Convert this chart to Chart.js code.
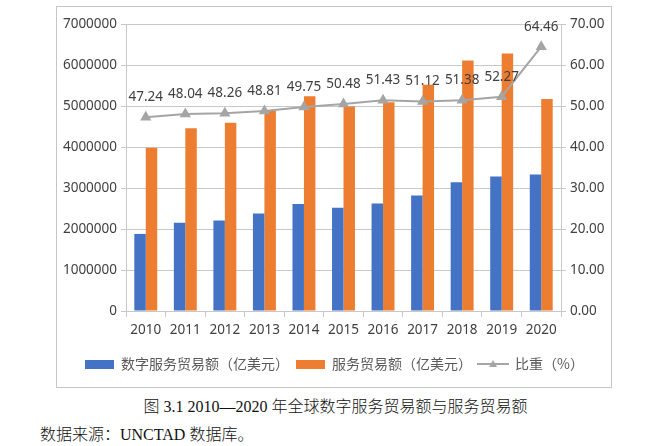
<!DOCTYPE html>
<html>
<head>
<meta charset="utf-8">
<script src="https://cdn.jsdelivr.net/npm/chart.js@4.4.0/dist/chart.umd.min.js"></script>
<style>
  body { margin: 0; background: #fff; width: 671px; height: 446px; position: relative; overflow: hidden; }
  #box { position: absolute; left: 56px; top: 6px; width: 554px; height: 380px; border: 1px solid #c6c6c6; }
  #box canvas { display: block; }
  .cap { position: absolute; font-family: "Liberation Serif", "Noto Sans CJK SC", serif; font-size: 16px; font-weight: 300; line-height: 20px; color: #111; white-space: nowrap; }
</style>
</head>
<body>
<div id="box"><canvas id="chart" width="554" height="380"></canvas></div>
<div class="cap" style="left:0;width:671px;text-align:center;top:397px;">图 3.1 2010—2020 年全球数字服务贸易额与服务贸易额</div>
<div class="cap" style="left:40px;top:425px;">数据来源：UNCTAD 数据库。</div>
<script>
// data
const years = ["2010", "2011", "2012", "2013", "2014", "2015", "2016", "2017", "2018", "2019", "2020"];
const digitalTrade = [1880000, 2150000, 2210000, 2380000, 2610000, 2520000, 2620000, 2820000, 3140000, 3280000, 3330000];
const serviceTrade = [3980000, 4460000, 4590000, 4880000, 5240000, 4990000, 5090000, 5520000, 6110000, 6280000, 5170000];
const shareRatio = [47.24, 48.04, 48.26, 48.81, 49.75, 50.48, 51.43, 51.12, 51.38, 52.27, 64.46];

const BLUE = "#4472C4";
const ORANGE = "#ED7D31";
const GRAY = "#A5A5A5";
const TEXT = "#404040";
const GRID = "#c8c8c8";

// legend swatches
function rectSwatch(color) {
  const c = document.createElement("canvas");
  c.width = 29; c.height = 9;
  const g = c.getContext("2d");
  g.fillStyle = color;
  g.fillRect(0, 0, 29, 9);
  return c;
}
function lineSwatch() {
  const c = document.createElement("canvas");
  c.width = 32; c.height = 10;
  const g = c.getContext("2d");
  g.strokeStyle = GRAY; g.lineWidth = 2;
  g.beginPath(); g.moveTo(0, 5); g.lineTo(32, 5); g.stroke();
  g.fillStyle = GRAY;
  g.beginPath(); g.moveTo(16, 1); g.lineTo(20, 8); g.lineTo(12, 8); g.closePath(); g.fill();
  return c;
}

// value labels above the line points
const pointLabels = {
  id: "pointLabels",
  afterDatasetsDraw(chart) {
    const meta = chart.getDatasetMeta(2);
    const ctx = chart.ctx;
    ctx.save();
    ctx.font = "13.5px 'Noto Sans'";
    ctx.fillStyle = TEXT;
    ctx.textAlign = "center";
    ctx.textBaseline = "middle";
    meta.data.forEach((pt, i) => {
      ctx.fillText(shareRatio[i].toFixed(2), pt.x, pt.y - 20);
    });
    ctx.restore();
  },
};

Chart.defaults.font.family = "'Noto Sans', 'Noto Sans CJK SC', sans-serif";
Chart.defaults.color = TEXT;

new Chart(document.getElementById("chart"), {
  type: "bar",
  data: {
    labels: years,
    datasets: [
      {
        label: "数字服务贸易额（亿美元）",
        data: digitalTrade,
        backgroundColor: BLUE,
        yAxisID: "y",
        order: 1,
      },
      {
        label: "服务贸易额（亿美元）",
        data: serviceTrade,
        backgroundColor: ORANGE,
        yAxisID: "y",
        order: 1,
      },
      {
        type: "line",
        label: "比重（%）",
        data: shareRatio,
        borderColor: GRAY,
        backgroundColor: GRAY,
        borderWidth: 2,
        pointStyle: "triangle",
        pointRadius: 4.5,
        pointBackgroundColor: GRAY,
        pointBorderColor: GRAY,
        yAxisID: "y1",
        order: 0,
        tension: 0,
      },
    ],
  },
  options: {
    responsive: false,
    animation: false,
    devicePixelRatio: 1,
    layout: { padding: { top: 17, bottom: 6, left: 0, right: 0 } },
    datasets: {
      bar: { categoryPercentage: 0.58, barPercentage: 1.0 },
    },
    plugins: {
      tooltip: { enabled: false },
      legend: {
        position: "bottom",
        labels: {
          usePointStyle: true,
          pointStyleWidth: 30,
          padding: 6,
          font: { size: 14, family: "'Noto Sans CJK SC', sans-serif" },
          color: "#595959",
          generateLabels(chart) {
            const swatches = [rectSwatch(BLUE), rectSwatch(ORANGE), lineSwatch()];
            return chart.data.datasets.map((ds, i) => ({
              text: ds.label,
              pointStyle: swatches[i],
              fillStyle: "transparent",
              strokeStyle: "transparent",
              lineWidth: 0,
              datasetIndex: i,
              hidden: false,
              fontColor: "#595959",
            }));
          },
        },
      },
    },
    scales: {
      x: {
        grid: { offset: true, drawOnChartArea: false, tickLength: 6, color: GRID },
        border: { color: GRID },
        ticks: { padding: 5, font: { size: 13.5 }, color: TEXT },
        afterFit(scale) { scale.height = 40; },
      },
      y: {
        position: "left",
        min: 0,
        max: 7000000,
        ticks: {
          stepSize: 1000000,
          padding: 4,
          font: { size: 13.5 },
          color: TEXT,
          callback: (v) => String(v),
        },
        grid: { color: GRID, tickLength: 5 },
        border: { color: GRID },
        afterFit(scale) { scale.width = 69; },
      },
      y1: {
        position: "right",
        min: 0,
        max: 70,
        ticks: {
          stepSize: 10,
          padding: 4,
          font: { size: 13.5 },
          color: TEXT,
          callback: (v) => Number(v).toFixed(2),
        },
        grid: { drawOnChartArea: false, color: GRID, tickLength: 5 },
        border: { color: GRID },
        afterFit(scale) { scale.width = 50; },
      },
    },
  },
  plugins: [pointLabels],
});
</script>
</body>
</html>
